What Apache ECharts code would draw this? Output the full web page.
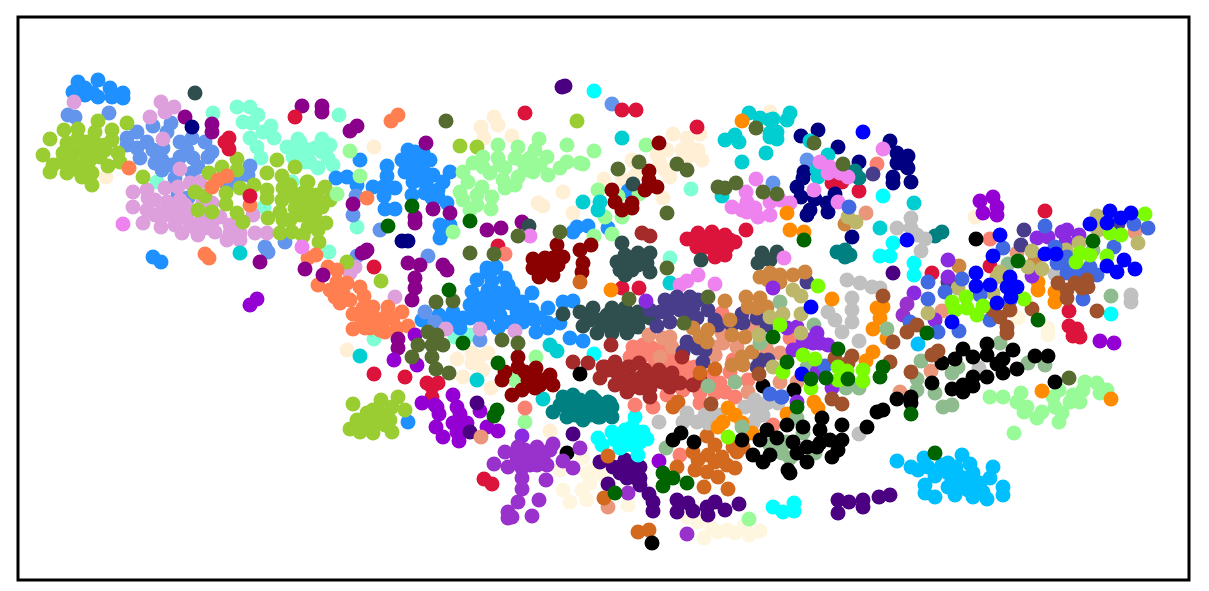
<!DOCTYPE html>
<html>
<head>
<meta charset="utf-8">
<script src="https://cdn.jsdelivr.net/npm/echarts@6/dist/echarts.min.js"></script>
<style>
  html, body { margin: 0; padding: 0; background: #fff; }
  #chart { width: 1209px; height: 591px; }
</style>
</head>
<body>
<div id="chart"></div>
<script>
// values, one list of [x, y] per cluster
var deepskyblue = [[897,461],[911,467],[918,470],[924,458],[928,467],[935,476],[942,465],[948,463],[956,467],[962,455],[970,464],[948,473],[952,482],[973,473],[965,478],[963,487],[972,483],[948,487],[925,485],[925,493],[935,497],[955,495],[968,490],[973,497],[980,483],[983,492],[987,499],[990,478],[993,467],[1003,487],[1003,495],[918,344],[958,475],[960,482],[975,485],[955,487]]
var cornsilk = [[560,470],[563,490],[570,502],[587,500],[583,458],[587,473],[582,490],[593,470],[603,475],[590,483],[628,505],[687,517],[698,522],[704,538],[712,528],[727,530],[735,533],[745,525],[749,535],[760,531],[718,532],[1018,318],[1048,328],[1048,335]]
var papayawhip = [[106,177],[374,147],[494,117],[498,125],[481,127],[484,138],[512,136],[563,192],[538,203],[543,206],[573,213],[770,112],[673,134],[687,138],[700,134],[657,155],[667,150],[682,150],[690,148],[698,150],[702,160],[688,157],[660,163],[665,170],[670,177],[632,160],[635,175],[622,179],[604,179],[663,198],[975,217],[347,350],[457,359],[472,353],[488,353],[463,377],[472,363],[483,370],[491,388],[480,357],[550,431]]
var aquamarine = [[213,113],[237,107],[250,107],[258,115],[243,122],[252,123],[271,126],[263,132],[274,138],[250,138],[257,147],[261,158],[287,147],[298,139],[293,157],[305,162],[307,150],[297,150],[157,182],[292,182],[264,207],[339,115],[300,142],[322,139],[330,145],[315,148],[307,157],[322,152],[318,168],[333,165],[328,158],[310,162],[357,227],[329,252],[374,339],[455,337],[470,335],[691,189],[670,258]]
var dodgerblue = [[78,82],[98,80],[85,88],[73,92],[93,93],[110,88],[98,97],[85,95],[112,97],[123,93],[123,98],[360,160],[336,178],[347,177],[357,185],[387,166],[387,176],[373,187],[383,187],[395,188],[384,196],[408,150],[423,152],[402,160],[430,160],[408,162],[420,165],[410,173],[423,170],[433,175],[443,182],[450,172],[413,182],[427,187],[412,195],[425,193],[438,197],[432,198],[447,203],[385,209],[395,209],[440,225],[450,225],[440,238],[442,233],[573,232],[496,267],[487,268],[577,227],[588,226],[608,228],[628,191],[153,257],[161,262],[408,422],[422,320],[439,315],[453,312],[450,320],[463,318],[460,328],[470,305],[472,292],[477,280],[487,272],[495,268],[505,278],[508,285],[513,293],[488,290],[497,293],[483,298],[473,305],[500,305],[487,310],[510,303],[522,302],[517,312],[500,315],[487,323],[498,328],[512,322],[523,322],[532,310],[535,320],[536,332],[548,308],[548,323],[548,328],[560,323],[563,302],[573,301],[532,293],[570,338],[583,341],[492,281],[480,300],[493,300],[505,295],[493,312],[478,315],[505,322],[515,300],[525,312],[540,318],[470,318],[415,170],[418,180],[405,172],[420,158],[415,152],[428,178],[438,190]]
var cornflowerblue = [[68,115],[75,117],[109,113],[153,126],[171,123],[167,132],[127,138],[137,132],[127,145],[137,148],[147,142],[153,150],[140,158],[163,148],[155,163],[162,170],[172,165],[180,142],[192,138],[205,142],[187,150],[212,152],[208,157],[180,157],[193,158],[198,167],[192,173],[162,160],[175,178],[178,195],[188,198],[227,185],[250,166],[248,175],[238,177],[285,242],[265,247],[268,252],[356,196],[353,215],[380,230],[428,256],[612,104],[773,183],[807,160],[357,256],[425,312],[435,322],[480,340]]
var plum = [[74,102],[161,102],[174,107],[150,117],[165,112],[163,139],[180,169],[165,188],[178,187],[190,183],[200,182],[133,192],[147,190],[133,207],[148,198],[147,210],[143,223],[161,227],[161,213],[167,202],[173,210],[185,205],[175,225],[183,217],[182,233],[198,235],[202,218],[212,203],[190,223],[212,222],[220,217],[215,232],[230,225],[227,240],[240,233],[240,240],[253,215],[255,233],[267,233],[203,202],[350,273],[355,267],[395,297],[515,331],[446,329],[480,329],[155,200],[165,215],[175,217],[155,215],[190,210],[195,228],[205,228],[180,200],[205,212],[230,233]]
var yellowgreen = [[50,139],[43,155],[64,130],[78,129],[98,121],[95,132],[112,130],[127,123],[112,140],[78,138],[67,143],[87,142],[98,145],[63,153],[73,152],[83,152],[93,153],[100,157],[118,153],[120,162],[108,166],[53,165],[50,172],[67,173],[73,163],[82,177],[92,185],[92,173],[85,163],[143,177],[78,170],[62,162],[209,173],[222,167],[237,159],[237,170],[240,188],[254,185],[195,192],[205,196],[226,193],[226,204],[198,210],[212,212],[237,213],[243,222],[277,160],[295,167],[267,173],[282,176],[267,190],[267,198],[283,188],[293,193],[307,182],[303,200],[282,200],[295,208],[280,212],[283,220],[268,218],[280,233],[292,232],[303,235],[308,182],[325,187],[330,200],[303,193],[317,195],[310,205],[322,207],[305,213],[315,217],[326,223],[308,227],[318,230],[319,242],[303,236],[300,198],[460,146],[477,147],[577,121],[347,262],[381,281],[353,404],[381,400],[398,397],[405,410],[392,407],[373,410],[367,413],[380,415],[357,420],[350,429],[360,432],[373,433],[377,423],[390,420],[392,432],[370,423],[80,150],[70,160],[90,160],[105,150],[85,172],[105,145],[290,185],[300,215],[290,220],[312,195],[315,207],[295,198],[378,410],[385,425],[365,425]]
var coral = [[129,168],[205,254],[209,258],[212,187],[218,180],[227,176],[250,205],[398,115],[391,121],[367,198],[308,258],[316,255],[328,267],[337,270],[318,285],[330,290],[337,282],[347,283],[343,293],[335,297],[340,303],[350,300],[360,287],[364,296],[353,314],[363,308],[373,307],[388,307],[402,312],[353,329],[370,328],[372,317],[362,320],[385,332],[383,322],[393,318],[397,328],[408,326],[387,315],[375,318],[380,330],[365,328]]
var palegreen = [[350,151],[360,176],[337,194],[453,232],[498,145],[539,139],[567,145],[518,147],[483,157],[498,158],[473,163],[463,172],[468,182],[483,167],[490,173],[505,168],[515,158],[523,162],[535,150],[547,157],[533,172],[548,175],[560,168],[567,162],[518,177],[515,185],[503,180],[505,188],[482,187],[477,195],[492,197],[460,192],[463,200],[477,205],[470,210],[491,209],[580,163],[646,145],[594,151],[583,164],[598,190],[618,196],[639,194],[605,217],[622,217],[594,236],[612,234],[536,357],[515,380],[525,422],[749,519],[990,397],[1003,397],[1021,393],[1017,402],[1027,407],[1024,412],[1042,412],[1037,418],[1059,422],[1062,413],[1055,407],[1053,397],[1059,390],[1070,402],[1080,402],[1073,395],[1085,382],[1097,383],[1083,390],[1107,390],[1100,393],[1014,433],[500,165],[525,170],[540,165],[530,158]]
var darkmagenta = [[185,117],[212,124],[212,132],[302,106],[322,106],[322,112],[350,131],[357,126],[426,143],[353,204],[433,209],[450,213],[415,217],[415,223],[487,230],[501,228],[522,222],[365,252],[408,263],[420,265],[443,265],[447,270],[260,262],[305,269],[323,275],[367,250],[362,253],[415,278],[415,288],[412,300],[398,339],[398,348]]
var crimson = [[295,117],[229,138],[225,142],[229,149],[250,196],[525,113],[498,246],[374,267],[622,110],[636,110],[697,127],[746,230],[692,239],[698,233],[712,232],[725,235],[735,242],[697,247],[707,247],[717,240],[727,247],[715,257],[725,255],[705,240],[687,239],[832,183],[842,182],[859,191],[932,273],[990,266],[1045,211],[1069,311],[1069,326],[1077,329],[1073,336],[1080,337],[374,374],[405,377],[427,383],[438,383],[432,387],[432,397],[484,479],[492,484],[622,288],[639,288],[700,240],[712,245],[720,250],[730,240]]
var darkslategray = [[195,93],[529,226],[622,243],[633,184],[701,260],[617,262],[625,255],[638,253],[650,253],[626,263],[638,265],[650,272],[625,275],[620,270],[647,263],[762,253],[777,252],[758,263],[770,260],[563,314],[580,312],[593,308],[612,308],[625,308],[583,326],[597,333],[612,333],[627,333],[600,320],[613,320],[627,320],[607,315],[633,327],[638,322],[625,310],[638,312],[650,318],[638,327],[605,325],[618,325],[590,320],[635,315],[620,315],[630,258],[632,270],[645,258],[590,315]]
var navy = [[192,127],[402,241],[408,241],[801,136],[818,130],[838,147],[804,172],[803,178],[797,187],[801,197],[815,199],[810,210],[807,215],[835,194],[827,203],[828,212],[890,141],[897,153],[908,156],[897,163],[907,167],[908,168],[893,177],[911,182],[893,183],[859,162],[852,237]]
var darkturquoise = [[240,253],[583,202],[600,202],[598,210],[622,138],[749,113],[760,118],[770,120],[773,119],[790,113],[787,120],[770,133],[777,132],[770,137],[777,139],[725,140],[735,135],[739,142],[766,153],[742,162],[722,196],[828,155],[810,141],[817,170],[818,177],[914,203],[880,228],[360,356],[477,380],[550,345],[557,351],[543,399],[670,283]]
var darkviolet = [[257,299],[250,305],[415,335],[394,360],[417,365],[422,403],[437,407],[453,395],[457,407],[435,405],[439,414],[460,414],[480,411],[436,427],[453,423],[467,423],[443,437],[457,432],[459,441],[487,427],[498,431],[980,201],[983,213],[993,197],[997,207],[997,215],[1100,341],[1114,343],[659,461]]
var darkolivegreen = [[446,121],[518,236],[560,232],[470,253],[494,254],[618,169],[639,162],[677,164],[687,170],[667,213],[756,128],[718,187],[725,188],[736,183],[763,192],[777,194],[814,143],[843,164],[667,268],[629,299],[708,297],[684,323],[436,302],[453,301],[502,340],[518,343],[428,332],[437,335],[443,345],[432,345],[432,357],[418,345],[412,357],[436,369],[449,373],[1069,378]]
var darkred = [[659,143],[649,171],[649,180],[645,190],[657,187],[612,190],[615,202],[622,210],[632,203],[632,208],[580,250],[591,245],[583,263],[582,272],[557,245],[533,259],[542,265],[553,258],[563,257],[533,268],[548,267],[539,277],[553,275],[558,265],[518,357],[518,367],[505,372],[502,380],[525,372],[536,368],[535,380],[550,375],[553,385],[512,395],[522,390],[535,388],[543,380],[545,258],[540,385],[528,380]]
var teal = [[553,412],[563,397],[567,417],[573,395],[573,407],[583,420],[583,407],[592,397],[598,417],[598,403],[608,402],[612,417],[612,407],[560,405],[595,400],[600,417],[610,403],[590,408],[855,171],[859,178],[845,250],[845,257],[935,236],[942,232],[837,252],[845,253],[850,255],[575,415],[590,415],[580,400],[605,410],[568,405]]
var violet = [[123,224],[302,247],[530,236],[756,179],[746,192],[747,202],[732,207],[742,210],[755,208],[758,217],[770,215],[770,202],[780,200],[790,203],[747,212],[814,190],[820,162],[830,167],[833,170],[828,173],[840,173],[848,177],[838,202],[784,258],[883,149],[680,285],[687,281],[698,275],[715,284]]
var indigo = [[565,86],[562,87],[893,273],[477,403],[470,432],[573,434],[600,462],[625,460],[613,467],[620,473],[630,470],[640,467],[627,478],[640,478],[640,485],[608,484],[633,477],[620,467],[649,494],[653,502],[653,511],[677,500],[677,512],[688,503],[693,511],[707,507],[715,502],[708,515],[725,510],[739,504],[838,500],[849,502],[863,500],[863,507],[838,513],[879,497],[890,495],[632,462]]
var cyan = [[594,91],[883,196],[893,243],[880,256],[890,256],[914,263],[914,275],[1111,314],[594,354],[635,417],[598,438],[602,445],[612,432],[615,440],[620,448],[623,437],[632,427],[633,435],[633,445],[643,432],[647,439],[638,455],[773,507],[783,512],[794,503],[794,511],[625,430],[625,445],[640,442]]
var salmon = [[505,254],[877,164],[990,239],[525,408],[633,347],[630,357],[643,345],[652,348],[642,357],[655,358],[670,355],[670,365],[660,373],[683,365],[695,367],[688,377],[667,385],[667,395],[635,405],[653,407],[700,393],[700,403],[712,375],[715,385],[720,383],[725,392],[715,393],[735,397],[722,313],[730,372],[748,380],[733,360],[715,355],[752,327],[790,338],[690,368],[695,380],[680,455],[683,390],[773,425],[645,352],[660,350],[675,372],[700,375],[655,365],[705,385]]
var darksalmon = [[866,213],[1017,253],[1135,232],[942,311],[931,371],[900,392],[797,382],[481,437],[608,507],[649,335],[670,337],[663,338],[672,347],[660,357],[722,333],[723,343],[715,355],[737,347],[767,350],[780,353],[780,382],[748,392],[753,328],[713,347]]
var darkslateblue = [[873,174],[1024,230],[1021,245],[1118,224],[948,282],[807,282],[650,310],[665,300],[677,297],[690,297],[667,312],[680,310],[693,307],[670,322],[657,326],[697,318],[708,310],[715,320],[718,325],[742,314],[743,323],[732,325],[757,318],[767,325],[757,367],[760,360],[768,360],[687,342],[683,352],[697,348],[705,350],[703,362],[672,302],[685,302],[660,312],[698,300],[690,315]]
var peru = [[845,224],[959,266],[1035,260],[760,277],[770,273],[780,275],[793,275],[805,272],[780,282],[768,280],[725,301],[746,297],[760,298],[748,307],[757,308],[767,307],[693,328],[708,330],[700,337],[707,342],[730,320],[732,335],[745,337],[752,352],[742,357],[732,365],[743,365]]
var brown = [[642,233],[650,236],[611,345],[573,362],[588,363],[603,367],[600,378],[615,362],[617,373],[615,385],[630,367],[630,380],[627,392],[605,367],[628,367],[639,363],[628,380],[637,380],[648,377],[659,370],[672,373],[662,382],[650,388],[650,397],[640,388],[630,388],[680,383],[670,387],[700,380],[693,385],[682,357],[640,378],[655,380],[620,380],[665,375],[645,370],[608,370]]
var chocolate = [[580,282],[715,369],[678,402],[673,407],[700,373],[707,436],[715,445],[693,452],[708,455],[722,457],[698,460],[715,462],[727,465],[695,470],[707,472],[718,477],[735,468],[704,487],[728,489],[677,467],[733,447],[743,447],[737,452],[608,456],[604,498],[638,532],[649,530]]
var darkseagreen = [[1008,264],[1093,250],[1111,296],[887,329],[780,302],[814,325],[807,367],[846,388],[859,388],[921,361],[917,379],[917,390],[935,393],[952,373],[958,367],[1000,343],[1028,363],[1045,365],[952,405],[943,407],[797,418],[803,433],[708,386],[735,382],[760,343],[742,427],[666,448],[770,445],[780,447],[787,442],[782,453],[790,458],[815,453]]
var silver = [[911,218],[897,228],[911,228],[917,235],[925,239],[921,251],[1055,274],[1131,295],[1131,302],[847,280],[860,283],[872,287],[880,288],[852,298],[852,310],[852,322],[828,312],[835,320],[842,332],[859,341],[979,368],[859,434],[659,422],[687,413],[683,422],[697,422],[705,415],[708,423],[718,415],[745,407],[755,400],[757,410],[767,403],[778,403],[753,423],[763,415],[757,417]]
var black = [[976,239],[580,374],[567,453],[652,543],[673,440],[681,433],[694,442],[742,440],[753,455],[760,440],[763,462],[767,430],[770,455],[777,438],[788,470],[790,473],[787,425],[797,453],[803,427],[807,447],[807,462],[822,418],[820,430],[820,443],[830,440],[832,457],[838,450],[842,425],[842,440],[867,427],[877,412],[883,410],[793,442],[817,447],[794,390],[963,349],[987,344],[955,359],[973,357],[987,355],[942,363],[1013,350],[1003,359],[997,364],[1003,373],[1017,369],[1035,356],[1048,356],[973,377],[987,377],[963,385],[963,392],[952,389],[973,386],[932,383],[911,397],[911,403],[897,399],[1055,382],[763,386]]
var darkorange = [[742,121],[787,213],[790,230],[804,232],[611,290],[832,299],[1038,282],[1038,290],[1055,292],[1055,302],[873,329],[877,308],[883,307],[880,318],[887,338],[873,352],[866,361],[814,402],[818,408],[787,414],[1042,391],[1111,399],[728,408],[735,415],[723,422],[718,427],[742,423],[752,433]]
var sienna = [[759,374],[711,404],[883,296],[893,342],[907,332],[917,325],[932,355],[938,351],[911,372],[890,362],[852,356],[848,363],[835,358],[832,399],[842,404],[1000,317],[1010,310],[1007,327],[1007,333],[993,310],[1032,309],[1058,283],[1067,290],[1067,298],[1075,283],[1087,280],[1088,287],[1082,288],[1097,311]]
var blueviolet = [[914,293],[935,320],[1037,238],[1048,237],[1062,232],[1067,230],[1066,242],[1079,235],[1032,276],[948,260],[948,277],[646,301],[773,288],[793,350],[832,388],[787,328],[797,327],[803,343],[813,343],[817,333],[828,345],[810,340],[820,343],[817,372],[797,402],[522,436]]
var darkorchid = [[907,304],[903,315],[505,452],[494,464],[508,467],[518,447],[537,447],[553,444],[517,457],[530,458],[543,457],[547,465],[522,468],[537,465],[546,480],[522,478],[522,489],[518,502],[539,500],[532,516],[508,512],[512,517],[508,518],[563,461],[573,468],[580,448],[628,493],[517,462],[687,534],[525,450],[540,455],[530,465],[550,450]]
var darkkhaki = [[856,222],[848,217],[958,288],[993,293],[928,313],[1000,272],[997,277],[1028,267],[1042,269],[1032,251],[1066,250],[1079,243],[1097,216],[1098,230],[1138,243],[793,290],[801,296],[783,314],[801,314],[770,317],[759,335],[801,333],[773,367]]
var royalblue = [[849,207],[1045,226],[1003,248],[1055,247],[1148,228],[1134,224],[1114,247],[928,282],[962,279],[945,292],[928,299],[980,295],[1010,300],[990,320],[959,331],[938,332],[910,322],[1083,299],[1063,263],[1067,273],[1057,263],[1080,272],[1090,267],[1097,275],[1067,257],[825,366],[782,397],[770,394],[781,397]]
var blue = [[863,132],[907,240],[1000,235],[993,256],[976,273],[976,286],[990,285],[1010,277],[1007,287],[1017,287],[1011,297],[997,303],[1045,254],[1056,254],[1090,224],[1110,211],[1107,223],[1121,218],[1131,213],[1107,266],[1124,260],[1117,272],[1135,269],[952,322],[811,307],[802,374]]
var lawngreen = [[952,302],[955,310],[966,297],[967,308],[977,315],[983,306],[1024,299],[1145,214],[1110,233],[1121,235],[1107,256],[1076,262],[1080,253],[1090,255],[818,286],[780,325],[783,372],[811,388],[803,355],[815,359],[838,367],[847,371],[838,380],[863,370],[863,381],[728,437]]
var darkgreen = [[412,206],[388,226],[470,221],[449,290],[463,343],[498,363],[497,410],[494,416],[615,493],[663,473],[673,478],[663,486],[687,483],[804,240],[773,337],[787,362],[811,379],[826,378],[797,407],[1093,241],[1018,261],[1038,320],[927,333],[935,453],[838,349],[848,379],[880,377],[883,367],[911,414]]

var clusters = [
  [deepskyblue, '#00BFFF'], [cornsilk, '#FFF6DF'], [papayawhip, '#FFEFD5'], [aquamarine, '#7FFFD4'],
  [dodgerblue, '#1E90FF'], [cornflowerblue, '#6495ED'], [plum, '#DDA0DD'], [yellowgreen, '#9ACD32'],
  [coral, '#FF7F50'], [palegreen, '#98FB98'], [darkmagenta, '#8B008B'], [crimson, '#DC143C'],
  [darkslategray, '#2F4F4F'], [navy, '#000080'], [darkturquoise, '#00CED1'], [darkviolet, '#9400D3'],
  [teal, '#008080'], [violet, '#EE82EE'], [indigo, '#4B0082'], [cyan, '#00FFFF'],
  [salmon, '#FA8072'], [darksalmon, '#E9967A'], [darkslateblue, '#483D8B'], [peru, '#CD853F'],
  [brown, '#A52A2A'], [darkred, '#8B0000'], [darkolivegreen, '#556B2F'], [chocolate, '#D2691E'],
  [silver, '#C0C0C0'], [darkorange, '#FF8C00'], [darkseagreen, '#8FBC8F'], [black, '#000000'],
  [blueviolet, '#8A2BE2'], [darkorchid, '#9932CC'], [darkkhaki, '#BDB76B'], [royalblue, '#4169E1'],
  [sienna, '#A0522D'], [lawngreen, '#7CFC00'], [blue, '#0000FF'], [darkgreen, '#006400']
]

var series = []
for (var i = 0; i < clusters.length; i++) {
  series.push({
    type: 'scatter',
    data: clusters[i][0],
    symbolSize: 15,
    silent: true,
    itemStyle: { color: clusters[i][1], opacity: 1 }
  })
}

var myChart = echarts.init(document.getElementById('chart'))
myChart.setOption({
  animation: false,
  grid: {
    show: true,
    left: 18,
    top: 17,
    width: 1171,
    height: 563,
    backgroundColor: '#fff',
    borderColor: '#000',
    borderWidth: 3
  },
  xAxis: { type: 'value', min: 18, max: 1189, show: false },
  yAxis: { type: 'value', min: 17, max: 580, inverse: true, show: false },
  series: series
})
</script>
</body>
</html>
